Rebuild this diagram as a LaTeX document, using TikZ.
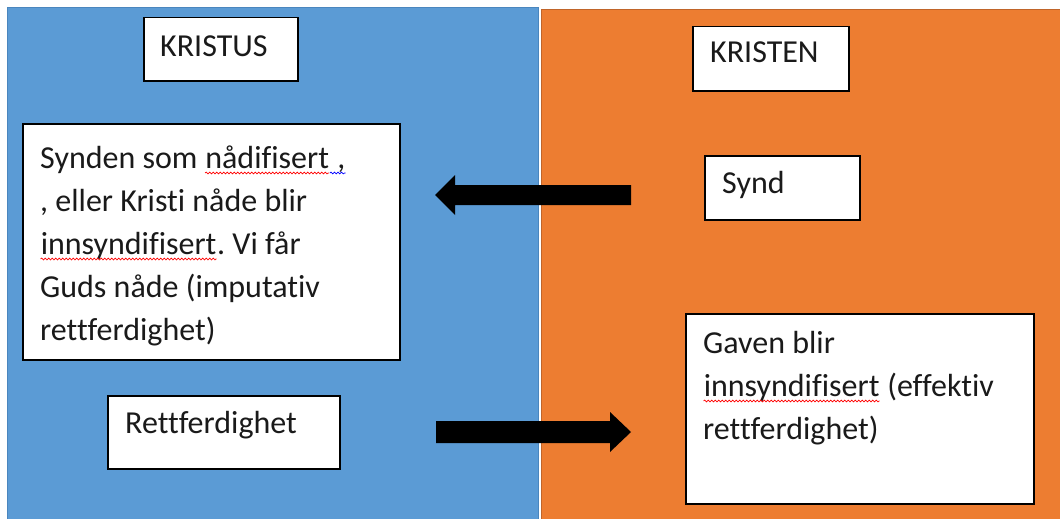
\documentclass[tikz,border=0pt]{standalone}
\usepackage{fontspec}
\setmainfont{Carlito}[Ligatures=NoCommon,RawFeature=-liga]
\usetikzlibrary{decorations.pathmorphing}
\frenchspacing
\definecolor{pblue}{HTML}{5B9BD5}
\definecolor{pbluedge}{HTML}{4A86BE}
\definecolor{porange}{HTML}{ED7D31}
\definecolor{porangedge}{HTML}{C0652A}
\definecolor{txt}{HTML}{1A1A1A}
\newcommand\wavy[2]{\tikz[baseline=(w.base)]{\node[inner sep=0pt, anchor=base west] (w) at (0,0) {#2};
  \draw[#1, line width=0.7pt, decorate, decoration={snake, amplitude=0.9pt, segment length=3.5pt}] ([yshift=-5pt]w.base west) -- ([yshift=-5pt]w.base east);}}
\tikzset{
  panel/.style={rectangle, line width=1pt, inner sep=0pt, anchor=north west},
  box/.style={rectangle, draw=black, fill=white, line width=1.5pt, inner sep=0pt, anchor=north west},
  lbl/.style={inner sep=0pt, anchor=base west, text=txt, font=\fontsize{32}{43}\selectfont, align=left},
  blockarrow/.style={fill=black}
}
\begin{document}
\begin{tikzpicture}[x=1pt,y=-1pt]
\useasboundingbox (0,0) rectangle (1060,519);
\fill[white] (0,0) rectangle (1060,519);
% panels
\node[panel, fill=pblue, draw=pbluedge, minimum width=531pt, minimum height=530pt] (kristuspanel) at (7,7) {};
\node[panel, fill=porange, draw=porangedge, minimum width=540pt, minimum height=530pt] (kristenpanel) at (540.5,9.5) {};
% boxes
\node[box, minimum width=154pt, minimum height=63pt] (kristusbox) at (143,17) {};
\node[box, minimum width=156pt, minimum height=64pt] (kristenbox) at (692,26) {};
\node[box, minimum width=377pt, minimum height=236pt] (nadebox) at (22,123) {};
\node[box, minimum width=155pt, minimum height=64pt] (syndbox) at (704,155) {};
\node[box, minimum width=232pt, minimum height=73pt] (rettbox) at (107,395) {};
\node[box, minimum width=348pt, minimum height=190pt] (gavebox) at (685,313) {};
% texts (anchor = baseline of the last line)
\node[lbl] (kristus) at (160,57) {KRISTUS};
\node[lbl] (kristen) at (710,63) {KRISTEN};
\node[lbl] (synd) at (722,193) {Synd};
\node[lbl] (rett) at (125,433) {Rettferdighet};
\node[lbl] (nade) at (40,340) {Synden som \wavy{red}{nådifisert}\wavy{blue}{\ ,}\\
, eller Kristi nåde blir\\
\wavy{red}{innsyndifisert}. Vi får\\
Guds nåde (imputativ\\
rettferdighet)};
\node[lbl] (gave) at (703,439) {Gaven blir\\
\wavy{red}{innsyndifisert} (effektiv\\
rettferdighet)};
% block arrows
\coordinate (syndtail) at (631,195);
\coordinate (nadetip) at (435,195);
\fill[blockarrow] (syndtail) ++(0,-10) -- ++(-176,0) -- ++(0,-10) -- (nadetip) -- ++(20,20) -- ++(0,-10) -- ++(176,0) -- cycle;
\coordinate (retttail) at (436,432);
\coordinate (gavetip) at (631,432);
\fill[blockarrow] (retttail) ++(0,-11) -- ++(174,0) -- ++(0,-9) -- (gavetip) -- ++(-21,20) -- ++(0,-9) -- ++(-174,0) -- cycle;
\end{tikzpicture}
\end{document}
